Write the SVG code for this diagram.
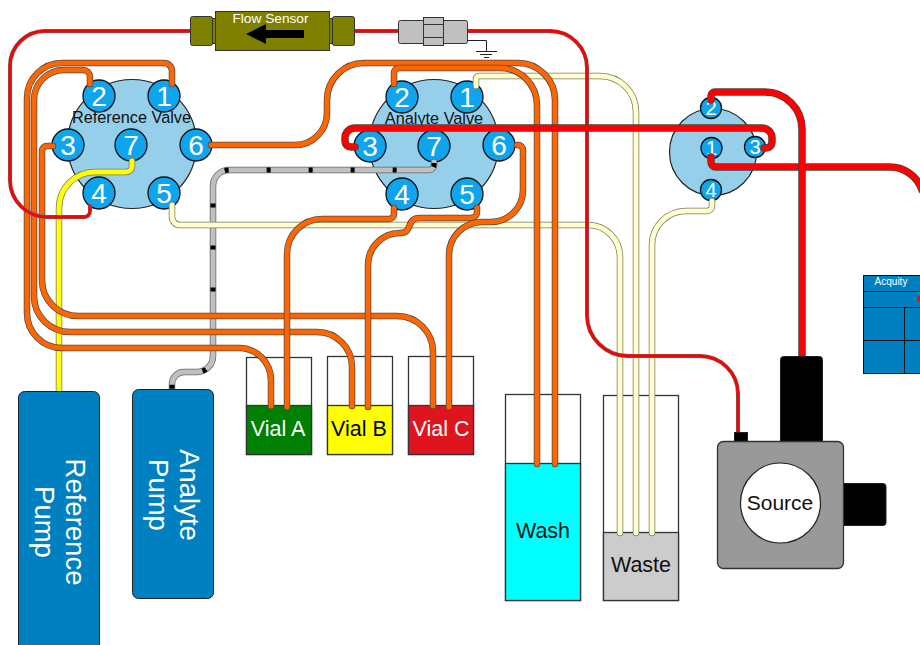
<svg xmlns="http://www.w3.org/2000/svg" xmlns:xlink="http://www.w3.org/1999/xlink" width="920" height="645" viewBox="0 0 920 645">
<style>
text{font-family:"Liberation Sans",Arial,sans-serif;text-anchor:middle}
.box{stroke:#333;stroke-width:1.300}
.valve{fill:#95CFEA;stroke:#222;stroke-width:1.200}
.port{fill:#0EA5EE;stroke:#111;stroke-width:1.300}
.pn{fill:#fff;font-size:28px}
.pns{fill:#fff;font-size:20px}
.vt{font-size:16.300px;fill:#111}
.big{font-size:21.500px}
.pl{font-size:27.500px;fill:#fff}
.pump{fill:#0080C0;stroke:#222;stroke-width:1}
.t{fill:none;stroke-linecap:round;stroke-linejoin:round}
.oOut{stroke:#4a4a4a;stroke-width:6.500}.oIn{stroke:#FF6600;stroke-width:5}
.cOut{stroke:#77776a;stroke-width:6.500}.cIn{stroke:#FFFFCC;stroke-width:5}
.yOut{stroke:#777;stroke-width:6.500}.yIn{stroke:#FFFF00;stroke-width:5}
.gOut{stroke:#666;stroke-width:6.500}.gIn{stroke:#C0C0C0;stroke-width:5}
.gTick{stroke:#000;stroke-width:5;stroke-dasharray:4 38;stroke-dashoffset:41;stroke-linecap:butt}
.rOut{stroke:#666;stroke-width:4}.rIn{stroke:#FF0000;stroke-width:2.800}
.ROut{stroke:#444;stroke-width:7.500}.RIn{stroke:#FF0000;stroke-width:6}
.ol{fill:#808000;stroke:#333;stroke-width:1}
.un{fill:#C0C0C0;stroke:#333;stroke-width:1}
.blk{fill:#000;stroke:#222;stroke-width:1}
.ac{fill:#0080C0;stroke:#111;stroke-width:1}
</style>
<defs>
<path id="c1" d="M172 205V217A8 8 0 0 0 180 225H588A32 32 0 0 1 620 257V533"/>
<path id="c2" d="M476 86V79A3 3 0 0 1 479 76H600A36 36 0 0 1 636 112V533"/>
<path id="c3" d="M712 201V206A5 5 0 0 1 707 211H686A34 34 0 0 0 652 245V533"/>
<path id="y1" d="M132 161V166A6 6 0 0 1 126 172H95A36 36 0 0 0 59 208V391"/>
<path id="g1" d="M434 162V165A5 5 0 0 1 429 170H229A16 16 0 0 0 213 186V356A16 16 0 0 1 197 372H184A12 12 0 0 0 172 384V392"/>
<path id="o1" d="M172 84V71A8 8 0 0 0 164 63H62A35 35 0 0 0 27 98V313A35 35 0 0 0 62 348H239A32 32 0 0 1 271 380V406"/>
<path id="o2" d="M90 84V77A7 7 0 0 0 83 70H64A30 30 0 0 0 34 100V296A36 36 0 0 0 70 332H317A35 35 0 0 1 352 367V406"/>
<path id="o3" d="M53 146H47A5 5 0 0 0 42 151V280A36 36 0 0 0 78 316H397A36 36 0 0 1 433 352V406"/>
<path id="o4" d="M211 145H295A32 32 0 0 0 327 113V100A37 37 0 0 1 364 63H518A37 37 0 0 1 555 100V464"/>
<path id="o5" d="M394 84V73A5 5 0 0 1 399 68H500A37 37 0 0 1 537 105V464"/>
<path id="o6" d="M394 208V214A5 5 0 0 1 389 219H322A35 35 0 0 0 287 254V407"/>
<path id="o7" d="M477 208V212A6 6 0 0 1 471 218H420C405 218 414 233 400 233A32 32 0 0 0 368 265V407"/>
<path id="o8" d="M517 145H518A5 5 0 0 1 523 150V190A32 32 0 0 1 491 222H482A33 33 0 0 0 449 255V407"/>
<path id="r1" d="M190 31H45A35 35 0 0 0 10 66V180A37 37 0 0 0 47 217H84A6 6 0 0 0 90 211V206"/>
<path id="r2" d="M354 31H398"/>
<path id="r3" d="M467 31H550A37 37 0 0 1 587 68V315A41 41 0 0 0 628 356H700A38 38 0 0 1 738 394V432"/>
<path id="R1" d="M355 147H351A6 6 0 0 1 345 141V138A10 10 0 0 1 355 128H762A10 10 0 0 1 772 138V142A6 6 0 0 1 766 148H764"/>
<path id="R2" d="M711 100V96A4 4 0 0 1 715 92H765A37 37 0 0 1 802 129V357"/>
<path id="R3" d="M711 157V162A5 5 0 0 0 716 167H888A34 34 0 0 1 922 190"/>
</defs>
<g id="wash"><rect x="505.500" y="394.500" width="75" height="206" fill="#fff" class="box"/><rect x="505.500" y="463.500" width="75" height="137" fill="#0ff" class="box"/><text class="big" x="543" y="538" fill="#111">Wash</text></g>
<g id="waste"><rect x="603.500" y="395.500" width="75" height="205" fill="#fff" class="box"/><rect x="603.500" y="532.500" width="75" height="68" fill="#CCC" class="box"/><text class="big" x="641" y="572" fill="#111">Waste</text></g>
<g id="vial-a"><rect x="246.500" y="357.500" width="65" height="97" fill="#fff" class="box"/><rect x="246.500" y="405.500" width="65" height="49" fill="#008000" class="box"/><text class="big" x="278" y="436" fill="#fff">Vial A</text></g>
<g id="vial-b"><rect x="327.500" y="356.500" width="65" height="98" fill="#fff" class="box"/><rect x="327.500" y="405.500" width="65" height="49" fill="#FF0" class="box"/><text class="big" x="359" y="436" fill="#000">Vial B</text></g>
<g id="vial-c"><rect x="408.500" y="356.500" width="65" height="98" fill="#fff" class="box"/><rect x="408.500" y="405.500" width="65" height="49" fill="#E0141E" class="box"/><text class="big" x="441" y="436" fill="#fff">Vial C</text></g>
<g id="reference-valve"><circle class="valve" cx="132" cy="144" r="64.500"/>
<g><circle class="port" cx="99" cy="96" r="16"/><circle class="port" cx="164" cy="96" r="16"/><circle class="port" cx="68" cy="145" r="16"/><circle class="port" cx="131" cy="145" r="16"/><circle class="port" cx="196" cy="145" r="16"/><circle class="port" cx="99" cy="193" r="16"/><circle class="port" cx="164" cy="193" r="16"/></g>
<text class="vt" x="131.500" y="123">Reference Valve</text>
<text class="pn" x="99" y="105.500">2</text><text class="pn" x="164" y="105.500">1</text><text class="pn" x="68" y="154.500">3</text><text class="pn" x="131" y="154.500">7</text><text class="pn" x="196" y="154.500">6</text><text class="pn" x="99" y="202.500">4</text><text class="pn" x="164" y="202.500">5</text></g>
<g id="analyte-valve"><circle class="valve" cx="434" cy="144" r="64.500"/>
<g><circle class="port" cx="402" cy="97" r="16"/><circle class="port" cx="467" cy="97" r="16"/><circle class="port" cx="370" cy="146" r="16"/><circle class="port" cx="434" cy="146" r="16"/><circle class="port" cx="499" cy="145" r="16"/><circle class="port" cx="402" cy="194" r="16"/><circle class="port" cx="467" cy="194" r="16"/></g>
<text class="vt" x="434" y="124">Analyte Valve</text>
<text class="pn" x="402" y="106.500">2</text><text class="pn" x="467" y="106.500">1</text><text class="pn" x="370" y="155.500">3</text><text class="pn" x="434" y="155.500">7</text><text class="pn" x="499" y="154.500">6</text><text class="pn" x="402" y="203.500">4</text><text class="pn" x="467" y="203.500">5</text></g>
<g id="divert-valve"><circle class="valve" cx="713" cy="152" r="43.500"/>
<circle class="port" cx="711" cy="108" r="10.500"/><circle class="port" cx="711.500" cy="148" r="10.500"/><circle class="port" cx="755" cy="147" r="10.500"/><circle class="port" cx="711" cy="190" r="10.500"/>
<text class="pns" x="711" y="115">2</text><text class="pns" x="711.500" y="155">1</text><text class="pns" x="755" y="154">3</text><text class="pns" x="711" y="197">4</text></g>
<g id="connectors">
<g class="t">
<use xlink:href="#y1" class="yOut"/><use xlink:href="#y1" class="yIn"/>
<use xlink:href="#g1" class="gOut"/><use xlink:href="#g1" class="gIn"/><use xlink:href="#g1" class="gTick"/>
<use xlink:href="#c1" class="cOut"/><use xlink:href="#c1" class="cIn"/>
<use xlink:href="#c2" class="cOut"/><use xlink:href="#c2" class="cIn"/>
<use xlink:href="#c3" class="cOut"/><use xlink:href="#c3" class="cIn"/>
<use xlink:href="#o1" class="oOut"/><use xlink:href="#o1" class="oIn"/>
<use xlink:href="#o2" class="oOut"/><use xlink:href="#o2" class="oIn"/>
<use xlink:href="#o3" class="oOut"/><use xlink:href="#o3" class="oIn"/>
<use xlink:href="#o4" class="oOut"/><use xlink:href="#o4" class="oIn"/>
<use xlink:href="#o5" class="oOut"/><use xlink:href="#o5" class="oIn"/>
<use xlink:href="#o6" class="oOut"/><use xlink:href="#o6" class="oIn"/>
<use xlink:href="#o7" class="oOut"/><use xlink:href="#o7" class="oIn"/>
<use xlink:href="#o8" class="oOut"/><use xlink:href="#o8" class="oIn"/>
<use xlink:href="#r1" class="rOut"/><use xlink:href="#r1" class="rIn"/>
<use xlink:href="#r2" class="rOut"/><use xlink:href="#r2" class="rIn"/>
<use xlink:href="#r3" class="rOut"/><use xlink:href="#r3" class="rIn"/>
<use xlink:href="#R3" class="ROut"/><use xlink:href="#R3" class="RIn"/>
<use xlink:href="#R1" class="ROut"/><use xlink:href="#R1" class="RIn"/>
<use xlink:href="#R2" class="ROut"/><use xlink:href="#R2" class="RIn"/>
</g></g>
<g id="flow-sensor"><rect class="ol" x="190.500" y="16.500" width="22" height="29" rx="2"/><rect class="ol" x="212.500" y="18.500" width="3" height="25"/><rect class="ol" x="215.500" y="11.500" width="114" height="39"/><rect class="ol" x="329.500" y="18.500" width="3" height="25"/><rect class="ol" x="332.500" y="16.500" width="22" height="29" rx="2"/>
<path d="M246 34L266 24V30H304V38H266V44Z" fill="#000"/>
<text x="270.500" y="23" font-size="13.700" fill="#fff">Flow Sensor</text></g>
<g id="union"><rect class="un" x="398.500" y="20.500" width="69" height="23" rx="2"/><rect class="un" x="423.500" y="17.500" width="20" height="28"/><path d="M423.500 24.500H443.500M423.500 37.500H443.500" stroke="#333" fill="none"/>
<path d="M467 40.500H486.500V51M476 51.500H497M480 54.500H492M484 57.500H489" stroke="#222" fill="none"/></g>
<g id="reference-pump"><rect class="pump" x="18.500" y="391.500" width="81" height="262" rx="6"/><text class="pl" transform="translate(66 522) rotate(90)">Reference</text><text class="pl" transform="translate(35 522) rotate(90)">Pump</text></g>
<g id="analyte-pump"><rect class="pump" x="132.500" y="389.500" width="81" height="209" rx="6"/><text class="pl" transform="translate(180 495) rotate(90)">Analyte</text><text class="pl" transform="translate(149 495) rotate(90)">Pump</text></g>
<g id="source"><rect class="blk" x="780.500" y="356.500" width="42" height="90" rx="3"/><rect class="blk" x="840" y="483.500" width="46" height="42" rx="3"/><rect class="blk" x="734.500" y="432.500" width="13" height="12"/><rect x="717.500" y="441.500" width="126" height="127" rx="6" fill="#999" stroke="#333" stroke-width="1.300"/><circle cx="780.500" cy="503" r="40" fill="#fff" stroke="#222" stroke-width="1.200"/><text x="780" y="510" font-size="21" fill="#111">Source</text></g>
<g id="acquity"><rect class="ac" x="863.500" y="275.500" width="60" height="98"/><path d="M863.500 291.500H925M863.500 307.500H925M863.500 340.500H925M904.500 307.500V373" stroke="#111" fill="none"/><text x="891" y="285" font-size="10" fill="#fff">Acquity</text><circle cx="920" cy="299" r="3" fill="#f00"/></g>
</svg>
